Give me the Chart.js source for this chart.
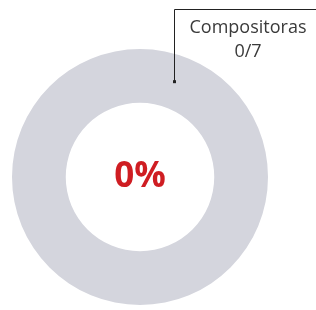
<!DOCTYPE html>
<html>
<head>
<meta charset="utf-8">
<script src="https://cdn.jsdelivr.net/npm/chart.js@4"></script>
<style>
  html, body { margin: 0; padding: 0; background: #fff; }
  #wrap { width: 316px; height: 310px; }
</style>
</head>
<body>
<div id="wrap"><canvas id="myChart" width="316" height="310"></canvas></div>
<script>
// datos
var etiquetas = ['Compositoras', 'Resto'];
var valores = [0, 7];
var colores = ['#cf1d22', '#d4d5dd'];

var total = valores.reduce(function (a, b) { return a + b; }, 0);
var porcentaje = Math.round(valores[0] / total * 100) + '%';

// texto central + etiqueta con linea
const etiquetaPlugin = {
    id: 'etiquetaPlugin',
    afterDraw: function (chart) {
        var ctx = chart.ctx;
        var arc = chart.getDatasetMeta(0).data[1];
        var cx = arc.x, cy = arc.y;
        var rMedio = (arc.innerRadius + arc.outerRadius) / 2;

        ctx.save();
        ctx.fillStyle = colores[0];
        ctx.font = 'bold 35px "Open Sans"';
        ctx.textAlign = 'center';
        ctx.textBaseline = 'middle';
        ctx.fillText(porcentaje, cx, cy);

        // punto de la linea
        var ang = (-90 + 19.5) * Math.PI / 180;
        var px = Math.round(cx + Math.cos(ang) * rMedio) + 0.5;
        var py = cy + Math.sin(ang) * rMedio;

        ctx.strokeStyle = '#222';
        ctx.lineWidth = 1;
        ctx.beginPath();
        ctx.moveTo(px, py);
        ctx.lineTo(px, 9.5);
        ctx.lineTo(chart.width, 9.5);
        ctx.stroke();

        ctx.fillStyle = '#222';
        ctx.fillRect(px - 1.5, py - 1.5, 3, 3);

        ctx.fillStyle = '#3a3a3a';
        ctx.font = '400 18px "Open Sans"';
        ctx.textBaseline = 'alphabetic';
        ctx.fillText(etiquetas[0], 248, 33);
        ctx.fillText(valores[0] + '/' + total, 248, 57);
        ctx.restore();
    }
};

const ctx = document.getElementById('myChart');

new Chart(ctx, {
    type: 'doughnut',
    data: {
        labels: etiquetas,
        datasets: [{
            data: valores,
            borderWidth: 0,
            backgroundColor: colores
        }]
    },
    options: {
        responsive: false,
        animation: false,
        cutout: '58%',
        layout: {
            padding: { left: 12, right: 48, top: 49, bottom: 5 }
        },
        plugins: {
            legend: { display: false },
            tooltip: { enabled: false }
        }
    },
    plugins: [etiquetaPlugin]
});
</script>
</body>
</html>
